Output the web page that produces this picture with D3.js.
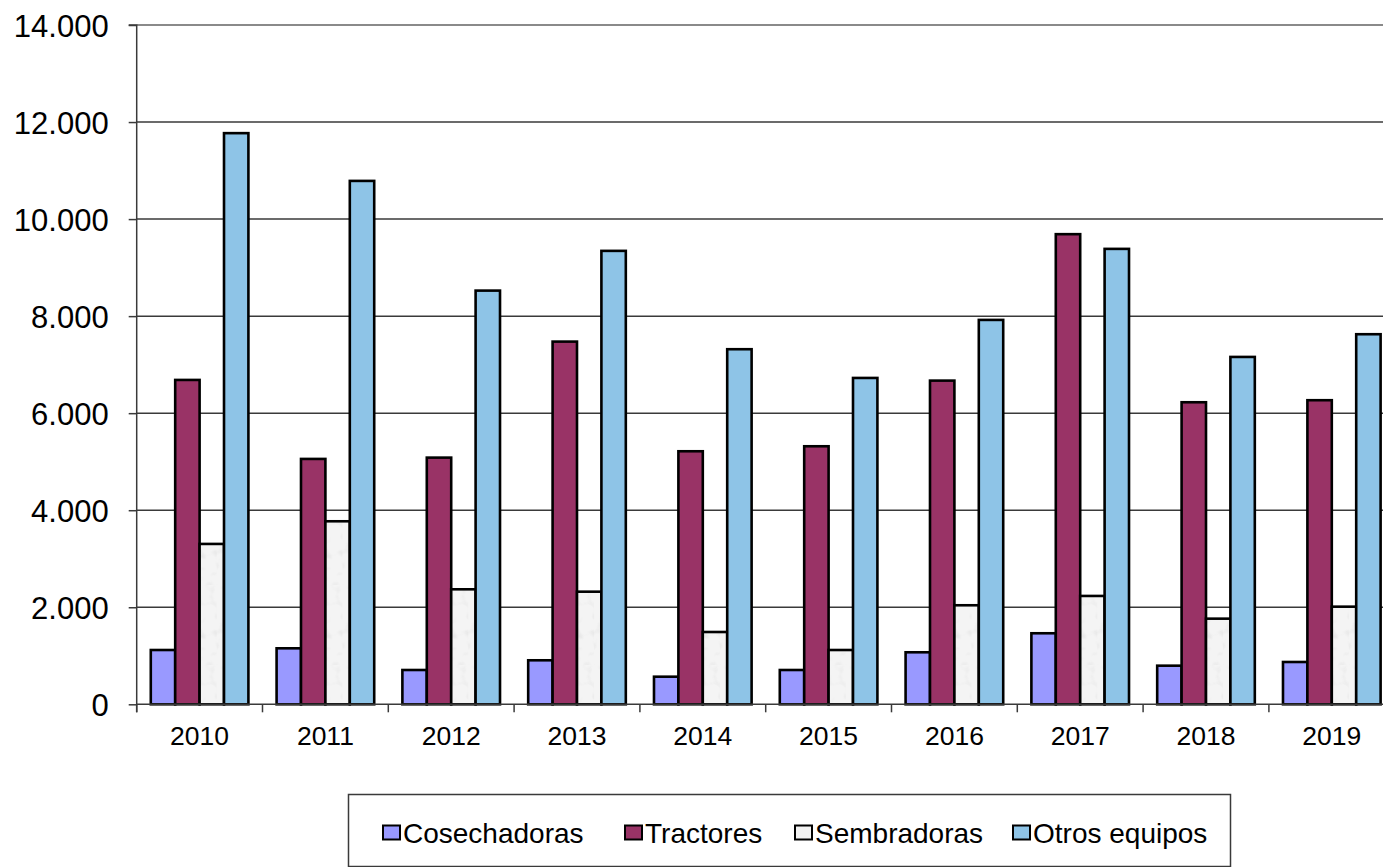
<!DOCTYPE html>
<html>
<head>
<meta charset="utf-8">
<script src="https://cdn.jsdelivr.net/npm/d3@7"></script>
<style>
html,body{margin:0;padding:0;background:#fff;}
svg{display:block;font-family:"Liberation Sans",Arial,sans-serif;}
</style>
</head>
<body>
<svg id="chart" width="1383" height="867"></svg>
<script>
const years = ["2010","2011","2012","2013","2014","2015","2016","2017","2018","2019"];
const seriesNames = ["Cosechadoras","Tractores","Sembradoras","Otros equipos"];
const cosechadoras = [1119,1154,707,907,569,707,1072,1464,796,872];
const tractores    = [6685,5057,5084,7475,5215,5318,6671,9689,6225,6267];
const sembradoras  = [3305,3772,2370,2321,1490,1119,2041,2233,1765,2012];
const otrosEquipos = [11771,10787,8526,9345,7318,6726,7922,9386,7159,7627];
const yTicks = [0,2000,4000,6000,8000,10000,12000,14000];
const yTickLabels = ["0","2.000","4.000","6.000","8.000","10.000","12.000","14.000"];

const seriesValues = [cosechadoras, tractores, sembradoras, otrosEquipos];
const colors = ["#9999FF","#993366","url(#speckle)","#8EC4E7"];
const legendFill = ["#9999FF","#993366","#F2F2F2","#8EC4E7"];

const svg = d3.select("#chart");
const defs = svg.append("defs");
// speckled light grey texture for Sembradoras
const filt = defs.append("filter").attr("id","noise").attr("x",0).attr("y",0).attr("width","100%").attr("height","100%");
filt.append("feTurbulence").attr("type","fractalNoise").attr("baseFrequency","0.09").attr("numOctaves","2").attr("seed","3").attr("result","t");
filt.append("feColorMatrix").attr("in","t").attr("type","matrix")
  .attr("values","0 0 0 0 0.62  0 0 0 0 0.62  0 0 0 0 0.62  -2.2 0 0 0 1.05");
const pat = defs.append("pattern").attr("id","speckle").attr("patternUnits","userSpaceOnUse").attr("width",80).attr("height",80);
pat.append("rect").attr("width",80).attr("height",80).attr("fill","#F4F4F4");
pat.append("rect").attr("width",80).attr("height",80).attr("filter","url(#noise)").attr("opacity",0.55);

const margin = {left:136.7, top:25, right:0};
const plotW = 1258, plotH = 679.3;
const g = svg.append("g").attr("transform",`translate(${margin.left},${margin.top})`);

const x0 = d3.scaleBand().domain(years).range([0,plotW]).paddingInner(0).paddingOuter(0);
const gap = x0.bandwidth()*0.112;
const x1 = d3.scaleBand().domain(seriesNames).range([gap, x0.bandwidth()-gap]).padding(0);
const y = d3.scaleLinear().domain([0,14000]).range([plotH,0]);

// gridlines
g.append("g").selectAll("line").data(yTicks.filter(d=>d>0)).join("line")
  .attr("x1",0).attr("x2",plotW).attr("y1",d=>y(d)).attr("y2",d=>y(d))
  .attr("stroke",d=>d===14000?"#8a8a8a":"#3a3a3a").attr("stroke-width",d=>d===14000?2:1.5);

// bars
const groups = g.append("g").selectAll("g").data(years).join("g")
  .attr("transform",d=>`translate(${x0(d)},0)`);
groups.selectAll("rect").data((d,i)=>seriesNames.map((s,j)=>({s, j, v:seriesValues[j][i]}))).join("rect")
  .attr("x",d=>x1(d.s)).attr("width",x1.bandwidth())
  .attr("y",d=>y(d.v)).attr("height",d=>plotH-y(d.v))
  .attr("fill",d=>colors[d.j]).attr("stroke","#000").attr("stroke-width",2.6);

// y axis
const yAxis = d3.axisLeft(y).tickValues(yTicks).tickFormat((d,i)=>yTickLabels[i]).tickSize(8).tickPadding(20);
const ya = g.append("g").call(yAxis);
ya.select(".domain").attr("stroke","#3a3a3a").attr("stroke-width",1.5).attr("d",`M-8,0H0V${plotH+8}`);
ya.selectAll(".tick line").attr("stroke","#3a3a3a").attr("stroke-width",1.5);
ya.selectAll(".tick text").attr("font-size",31).attr("fill","#000").attr("font-family","Liberation Sans, Arial, sans-serif").attr("dy","0.36em");

// x axis
const xa = g.append("g").attr("transform",`translate(0,${plotH})`);
xa.append("line").attr("x1",0).attr("x2",plotW).attr("y1",0).attr("y2",0).attr("stroke","#3a3a3a").attr("stroke-width",1.5);
xa.selectAll("line.tk").data(years.map(d=>x0(d)).concat([plotW])).join("line").attr("class","tk")
  .attr("x1",d=>d).attr("x2",d=>d).attr("y1",0).attr("y2",8).attr("stroke","#3a3a3a").attr("stroke-width",1.5);
xa.selectAll("text").data(years).join("text")
  .attr("x",d=>x0(d)+x0.bandwidth()/2).attr("y",41)
  .attr("text-anchor","middle").attr("font-size",26.5).attr("fill","#000").text(d=>d);

// legend
const lg = svg.append("g");
lg.append("rect").attr("x",348.5).attr("y",794.5).attr("width",882).attr("height",72)
  .attr("fill","#fff").attr("stroke","#3a3a3a").attr("stroke-width",1.5);
const legendX = [382,624,794,1012];
const li = lg.selectAll("g.item").data(seriesNames).join("g").attr("class","item")
  .attr("transform",(d,i)=>`translate(${legendX[i]},832.5)`);
li.append("rect").attr("x",1).attr("y",-7).attr("width",17).attr("height",14)
  .attr("fill",(d,i)=>legendFill[i]).attr("stroke","#000").attr("stroke-width",2);
li.append("text").attr("x",21).attr("y",0).attr("dy","0.36em").attr("font-size",28).attr("fill","#000").text(d=>d);
</script>
</body>
</html>
